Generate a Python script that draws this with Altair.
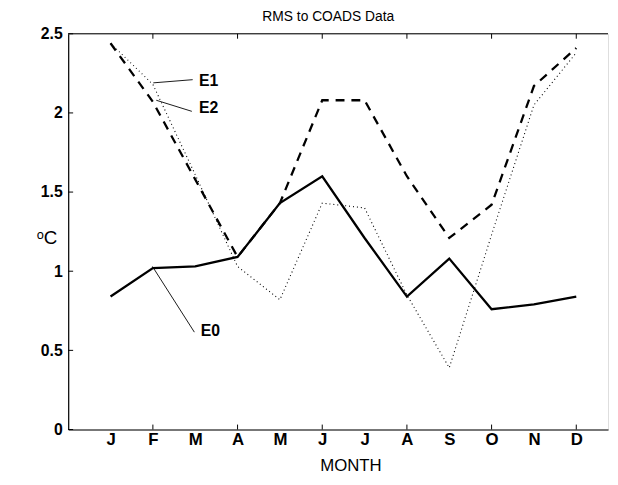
import altair as alt
import pandas as pd

months = ["J", "F", "M", "A", "M", "J", "J", "A", "S", "O", "N", "D"]
month_idx = list(range(1, 13))

e0 = [0.84, 1.02, 1.03, 1.09, 1.43, 1.60, 1.21, 0.84, 1.08, 0.76, 0.79, 0.84]
e1 = [2.44, 2.18, 1.61, 1.03, 0.82, 1.43, 1.40, 0.85, 0.39, 1.23, 2.05, 2.38]
e2 = [2.44, 2.07, 1.58, 1.09, 1.43, 2.08, 2.08, 1.60, 1.21, 1.42, 2.17, 2.41]

x_ticks = [2, 4, 6, 8, 10, 12]
y_ticks = [0, 0.5, 1, 1.5, 2, 2.5]

# annotation labels and leader lines
ann_text = ["E1", "E2", "E0"]
ann_tx = [3.09, 3.09, 3.13]
ann_ty = [2.20, 2.03, 0.625]
lead_x1 = [2.01, 2.08, 1.99]
lead_y1 = [2.19, 2.08, 1.03]
lead_x2 = [2.94, 2.92, 2.98]
lead_y2 = [2.21, 2.01, 0.615]

W, H = 547, 401
FONT = "Liberation Sans"

xs = alt.Scale(domain=[0, 12.75], nice=False, zero=False)
ys = alt.Scale(domain=[0, 2.5], nice=False)

label_expr = "[" + ",".join("'%s'" % m for m in months) + "][datum.value - 1]"

x_axis = alt.Axis(values=month_idx, labelExpr=label_expr, ticks=False,
                  grid=False, domainColor="black", domainWidth=1.2,
                  labelFont=FONT, labelFontSize=17, labelFontWeight="bold",
                  labelColor="black", labelPadding=2,
                  title="MONTH", titleFont=FONT, titleFontSize=17,
                  titleFontWeight="normal", titleColor="black",
                  titleX=286, titleY=37, titleBaseline="middle")
y_axis = alt.Axis(values=y_ticks, format="~g", ticks=False, grid=False,
                  domainColor="black", domainWidth=1.2,
                  labelFont=FONT, labelFontSize=16, labelFontWeight="bold",
                  labelColor="black", labelPadding=6,
                  title="ᵒC", titleAngle=0, titleFont=FONT, titleFontSize=19,
                  titleFontWeight="normal", titleColor="black",
                  titleX=-22, titleY=207, titleAlign="center",
                  titleBaseline="middle")


def series_df(vals):
    return pd.DataFrame({"month": month_idx, "value": vals})


line_e0 = alt.Chart(series_df(e0)).mark_line(
    color="black", strokeWidth=2.3, clip=True).encode(
    x=alt.X("month:Q", scale=xs, axis=x_axis),
    y=alt.Y("value:Q", scale=ys, axis=y_axis))

line_e1 = alt.Chart(series_df(e1)).mark_line(
    color="black", strokeWidth=1.1, strokeDash=[1, 3], clip=True).encode(
    x=alt.X("month:Q", scale=xs), y=alt.Y("value:Q", scale=ys))

line_e2 = alt.Chart(series_df(e2)).mark_line(
    color="black", strokeWidth=2.3, strokeDash=[9, 7], clip=True).encode(
    x=alt.X("month:Q", scale=xs), y=alt.Y("value:Q", scale=ys))

xt = pd.DataFrame({"x": x_ticks})
bottom_ticks = alt.Chart(xt).mark_rule(color="black", strokeWidth=1).encode(
    x=alt.X("x:Q", scale=xs), y=alt.value(H), y2=alt.value(H - 5))
top_ticks = alt.Chart(xt).mark_rule(color="black", strokeWidth=1).encode(
    x=alt.X("x:Q", scale=xs), y=alt.value(0), y2=alt.value(5))

yt = pd.DataFrame({"y": y_ticks})
left_ticks = alt.Chart(yt).mark_rule(color="black", strokeWidth=1).encode(
    y=alt.Y("y:Q", scale=ys), x=alt.value(0), x2=alt.value(5))

top_border = alt.Chart(pd.DataFrame({"a": [0]})).mark_rule(
    color="black", strokeWidth=1.2).encode(
    x=alt.value(0), x2=alt.value(W), y=alt.value(0))

lead_df = pd.DataFrame({"x1": lead_x1, "y1": lead_y1, "x2": lead_x2, "y2": lead_y2})
leaders = alt.Chart(lead_df).mark_rule(color="black", strokeWidth=0.9).encode(
    x=alt.X("x1:Q", scale=xs), y=alt.Y("y1:Q", scale=ys),
    x2="x2:Q", y2="y2:Q")

txt_df = pd.DataFrame({"t": ann_text, "x": ann_tx, "y": ann_ty})
texts = alt.Chart(txt_df).mark_text(
    align="left", baseline="middle", font=FONT, fontSize=16,
    fontWeight="bold", color="black").encode(
    x=alt.X("x:Q", scale=xs), y=alt.Y("y:Q", scale=ys), text="t:N")

chart = alt.layer(
    line_e0, line_e1, line_e2, bottom_ticks, top_ticks, left_ticks,
    top_border, leaders, texts
).properties(
    width=W, height=H,
    title=alt.TitleParams("RMS to COADS Data", font=FONT, fontSize=14,
                          fontWeight="normal", color="black", dx=-10, offset=2),
    autosize=alt.AutoSizeParams(type="none"),
    padding={"left": 61, "top": 23, "right": 2, "bottom": 45},
).configure_view(stroke=None).configure(background="white")

chart.save("out.html", embed_options={"renderer": "svg", "actions": False})
